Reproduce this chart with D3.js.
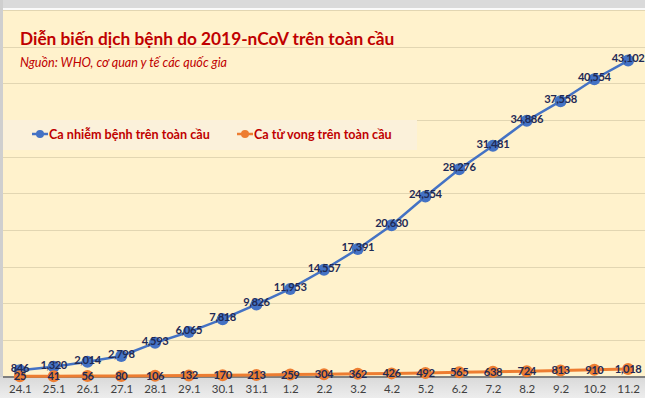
<!DOCTYPE html>
<html>
<head>
<meta charset="utf-8">
<script src="https://cdn.jsdelivr.net/npm/d3@7"></script>
<style>
    body { margin: 0; background: #fff; }
    svg { display: block; }
    text { font-family: Lato, "Open Sans", sans-serif; }
</style>
</head>
<body>
<div id="chart"></div>
<script>
// data
let dates = ["24.1","25.1","26.1","27.1","28.1","29.1","30.1","31.1","1.2","2.2",
             "3.2","4.2","5.2","6.2","7.2","8.2","9.2","10.2","11.2"];
let cases = [846, 1320, 2014, 2798, 4593, 6065, 7818, 9826, 11953, 14557,
             17391, 20630, 24554, 28276, 31481, 34886, 37558, 40554, 43102];
let deaths = [25, 41, 56, 80, 106, 132, 170, 213, 259, 304,
              362, 426, 492, 565, 638, 724, 813, 910, 1018];
let seriesNames = ["Ca nhiễm bệnh trên toàn cầu", "Ca tử vong trên toàn cầu"];
let yTicks = [0, 5000, 10000, 15000, 20000, 25000, 30000, 35000, 40000, 45000, 50000];

let width = 645, height = 398;
let colors = ["#4472C4", "#ED7D31"];

let svg = d3.select("#chart").append("svg")
    .attr("width", width)
    .attr("height", height);

// frame + background
svg.append("rect").attr("width", width).attr("height", height).attr("fill", "#FFF2CC");
svg.append("rect").attr("width", width).attr("height", 8).attr("fill", "#DADADA");
svg.append("rect").attr("y", 8).attr("width", width).attr("height", 2).attr("fill", "#FAFAFA");
svg.append("rect").attr("width", 3).attr("height", height).attr("fill", "#CFCFCF");

// scales
let x = d3.scalePoint()
    .domain(dates)
    .range([3, 645])
    .padding(0.5);

let y = d3.scaleLinear()
    .domain([0, 50000])
    .range([376.5, 10]);

// gridlines
svg.append("g").selectAll("line")
    .data(yTicks.slice(1))
    .join("line")
    .attr("x1", 3).attr("x2", width)
    .attr("y1", d => Math.round(y(d)) + 0.5)
    .attr("y2", d => Math.round(y(d)) + 0.5)
    .attr("stroke", "#E2D6B2")
    .attr("stroke-width", 1);

// legend band
svg.append("rect")
    .attr("x", 3).attr("y", 120)
    .attr("width", 414).attr("height", 30)
    .attr("fill", "#FBF1DA");

// title
svg.append("text")
    .attr("x", 20).attr("y", 45)
    .attr("fill", "#C00000")
    .attr("font-size", 17.3)
    .attr("font-weight", "bold")
    .text("Diễn biến dịch bệnh do 2019-nCoV trên toàn cầu");

svg.append("text")
    .attr("x", 20).attr("y", 67)
    .attr("fill", "#C00000")
    .attr("font-size", 12.6)
    .attr("font-style", "italic")
    .text("Nguồn: WHO, cơ quan y tế các quốc gia");

// legend
let legendX = [32, 237];
let legend = svg.append("g").selectAll("g")
    .data(seriesNames)
    .join("g")
    .attr("transform", (d, i) => `translate(${legendX[i]},134)`);
legend.append("line")
    .attr("x1", 0).attr("x2", 16)
    .attr("stroke", (d, i) => colors[i])
    .attr("stroke-width", 2.5);
legend.append("circle")
    .attr("cx", 8).attr("r", 4)
    .attr("fill", (d, i) => colors[i]);
legend.append("text")
    .attr("x", 17).attr("y", 4.5)
    .attr("fill", "#C00000")
    .attr("font-size", 12.6)
    .attr("font-weight", "bold")
    .text(d => d);

// x axis band
let grad = svg.append("defs").append("linearGradient")
    .attr("id", "axisband").attr("x1", 0).attr("x2", 0).attr("y1", 0).attr("y2", 1);
grad.append("stop").attr("offset", "0%").attr("stop-color", "#D9D9D9");
grad.append("stop").attr("offset", "100%").attr("stop-color", "#EDEDED");
svg.append("rect")
    .attr("x", 0).attr("y", 377)
    .attr("width", width).attr("height", height - 377)
    .attr("fill", "url(#axisband)");
svg.append("line")
    .attr("x1", 3).attr("x2", width)
    .attr("y1", 377).attr("y2", 377)
    .attr("stroke", "#7F7F7F")
    .attr("stroke-width", 2);

let xAxis = d3.axisBottom(x).tickSize(0).tickPadding(0);
let xg = svg.append("g")
    .attr("transform", "translate(0,385)")
    .call(xAxis);
xg.select(".domain").remove();
xg.selectAll("text")
    .attr("fill", "#404040")
    .attr("font-size", 11.5)
    .attr("dy", "0.71em");

// lines + dots
let line = d3.line()
    .x((d, i) => x(dates[i]))
    .y(d => y(d));

let series = [cases, deaths];
series.forEach((vals, s) => {
    svg.append("path")
        .attr("d", line(vals))
        .attr("fill", "none")
        .attr("stroke", colors[s])
        .attr("stroke-width", s == 0 ? 2.5 : 3);
    svg.append("g").selectAll("circle")
        .data(vals)
        .join("circle")
        .attr("cx", (d, i) => x(dates[i]))
        .attr("cy", d => y(d))
        .attr("r", 6)
        .attr("fill", colors[s]);
});

// data labels
series.forEach((vals, s) => {
    svg.append("g").selectAll("text")
        .data(vals)
        .join("text")
        .attr("x", (d, i) => x(dates[i]))
        .attr("y", d => y(d) - (s == 0 ? 2 : 0))
        .attr("dy", "0.35em")
        .attr("text-anchor", "middle")
        .attr("fill", "#1F2A55")
        .attr("font-size", 11.2)
        .attr("letter-spacing", "-0.4px")
        .attr("font-weight", "bold")
        .text(d => d3.format(",")(d));
});
</script>
</body>
</html>
